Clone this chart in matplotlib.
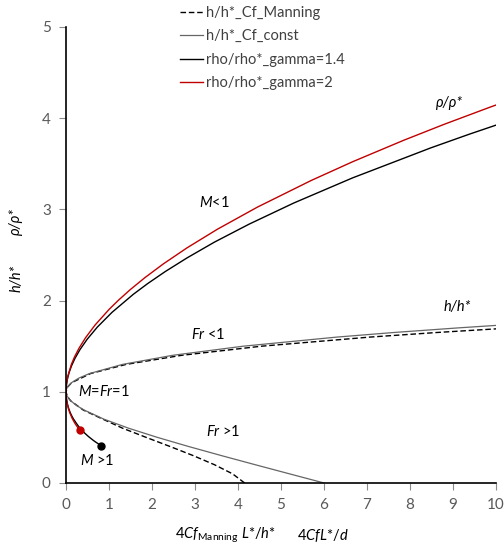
import matplotlib
matplotlib.use("Agg")
import matplotlib.pyplot as plt

plt.rcParams['font.family'] = ['Lato', 'DejaVu Sans']
plt.rcParams['mathtext.fontset'] = 'custom'
plt.rcParams['mathtext.rm'] = 'Lato'
plt.rcParams['mathtext.it'] = 'Lato:italic'

# h/h* with constant Cf (y values, then x = 4CfL*/d)
h_const = [0, 0.1, 0.2, 0.3, 0.4, 0.5, 0.6, 0.7, 0.8, 0.85, 0.9, 0.95, 0.97, 1.0,
           1.03, 1.05, 1.1, 1.15, 1.2, 1.3, 1.4, 1.5, 1.6, 1.65, 1.7, 1.728]
x_const = [6.0, 5.2, 4.403, 3.616, 2.851, 2.125, 1.459, 0.880, 0.419, 0.244, 0.112, 0.029, 0.011, 0.0,
           0.011, 0.031, 0.128, 0.298, 0.547, 1.312, 2.483, 4.125, 6.307, 7.624, 9.104, 10.01]

# h/h* with Manning friction
h_manning = [0, 0.1, 0.2, 0.3, 0.4, 0.5, 0.6, 0.7, 0.8, 0.9, 0.95, 1.0,
             1.05, 1.1, 1.2, 1.3, 1.4, 1.5, 1.6, 1.65, 1.69]
x_manning = [4.154, 3.875, 3.454, 2.959, 2.420, 1.864, 1.319, 0.856, 0.400, 0.110, 0.029, 0.0,
             0.031, 0.131, 0.571, 1.396, 2.691, 4.550, 7.077, 8.625, 10.01]

# rho/rho* for gamma = 1.4
x_g14 = [0.8215, 0.7868, 0.6938, 0.6331, 0.5222, 0.4320, 0.3050, 0.2419, 0.1724, 0.1361,
         0.0997, 0.0648, 0.0336, 0.0099, 0.0027, 0.0, 0.0033, 0.0145, 0.0363, 0.0723,
         0.1273, 0.2081, 0.3246, 0.4908, 0.7281, 1.0691, 1.5664, 1.8993, 2.3085, 2.8162,
         3.4525, 4.2598, 5.2993, 6.6611, 8.4834, 9.387, 10.416]
y_g14 = [0.4082, 0.4183, 0.4472, 0.4677, 0.5092, 0.5477, 0.6124, 0.6533, 0.7025, 0.7333,
         0.7693, 0.8124, 0.8634, 0.9249, 0.9605, 1.0, 1.0440, 1.0934, 1.1489, 1.2119,
         1.2838, 1.3665, 1.4625, 1.5753, 1.7092, 1.8708, 2.0693, 2.1864, 2.3184, 2.4683,
         2.6410, 2.8383, 3.0701, 3.3445, 3.6742, 3.8255, 3.9900]

# rho/rho* for gamma = 2
x_g2 = [0.3240, 0.3141, 0.2973, 0.2669, 0.2290, 0.1957, 0.1449, 0.0863, 0.0516, 0.0181,
        0.0054, 0.0, 0.0083, 0.0424, 0.1251, 0.1976, 0.3026, 0.4546, 0.6760, 1.0032,
        1.2239, 1.4969, 1.8375, 2.2664, 2.8133, 3.5207, 4.4514, 5.7016, 6.6653, 7.8456,
        8.7846, 9.8751, 11.150]
y_g2 = [0.5774, 0.5831, 0.5932, 0.6124, 0.6383, 0.6633, 0.7071, 0.7706, 0.8207, 0.8924,
        0.9404, 1.0, 1.0754, 1.1726, 1.3015, 1.3825, 1.4782, 1.5929, 1.7321, 1.9041,
        2.0060, 2.1213, 2.2526, 2.4032, 2.5778, 2.7822, 3.0247, 3.3166, 3.5221, 3.7560,
        3.9307, 4.1231, 4.3360]

labels = ["h/h*_Cf_Manning", "h/h*_Cf_const", "rho/rho*_gamma=1.4", "rho/rho*_gamma=2"]

fig = plt.figure(figsize=(5.04, 5.45), dpi=100)
ax = fig.add_axes([0.131, 0.1138, 0.853, 0.8367])

ax.plot(x_manning, h_manning, color="black", lw=1.0, dashes=(4, 2), label=labels[0])
ax.plot(x_const, h_const, color="#666666", lw=0.9, label=labels[1])
ax.plot(x_g14, y_g14, color="black", lw=1.0, label=labels[2])
ax.plot(x_g2, y_g2, color="#c00000", lw=1.0, label=labels[3])
ax.plot(x_g14[0], y_g14[0], "o", color="black", ms=5)
ax.plot(x_g2[0], y_g2[0], "o", color="#c00000", ms=5)

ax.set_xlim(0, 10)
ax.set_ylim(0, 5)
ax.set_xticks(range(0, 11))
ax.set_yticks(range(0, 6))
for s in ["top", "right"]:
    ax.spines[s].set_visible(False)
for s in ["left", "bottom"]:
    ax.spines[s].set_linewidth(1.2)
ax.tick_params(direction="out", length=5, width=0.8, color="#8c8c8c",
               labelcolor="#595959", labelsize=11, pad=6)

leg = fig.legend(loc="upper left", bbox_to_anchor=(0.345, 1.0), frameon=False,
                 fontsize=10.5, handlelength=1.6, handletextpad=0.2, labelspacing=0.65,
                 borderaxespad=0.0)
for t in leg.get_texts():
    t.set_color("#404040")

# annotations
ax.text(8.93, 4.17, "ρ/ρ*", style="italic", fontsize=10.5, ha="center", va="center")
ax.text(3.44, 3.07, "$M$<1", fontsize=10.5, ha="center", va="center")
ax.text(9.09, 1.93, "h/h*", style="italic", fontsize=10.5, ha="center", va="center")
ax.text(3.3, 1.63, "$Fr$ <1", fontsize=10.5, ha="center", va="center")
ax.text(0.28, 1.0, "$M$=$Fr$=1", fontsize=10.5, ha="left", va="center")
ax.text(3.65, 0.56, "$Fr$ >1", fontsize=10.5, ha="center", va="center")
ax.text(0.33, 0.25, "$M$ >1", fontsize=10.5, ha="left", va="center")

# axis titles
fig.text(0.032, 1 - 278 / 545, "h/h*", style="italic", rotation=90, fontsize=10.5,
         ha="center", va="center")
fig.text(0.032, 1 - 221 / 545, "ρ/ρ*", style="italic", rotation=90, fontsize=10.5,
         ha="center", va="center")
fig.text(175 / 504, 1 - 535 / 545, r"4$Cf$$_{\mathrm{Manning}}$ $L$*/$h$*", fontsize=10.5,
         ha="left", va="center")
fig.text(297 / 504, 1 - 535 / 545, r"4$CfL$*/$d$", fontsize=10.5, ha="left", va="center")

fig.savefig("out.png", dpi=100)
